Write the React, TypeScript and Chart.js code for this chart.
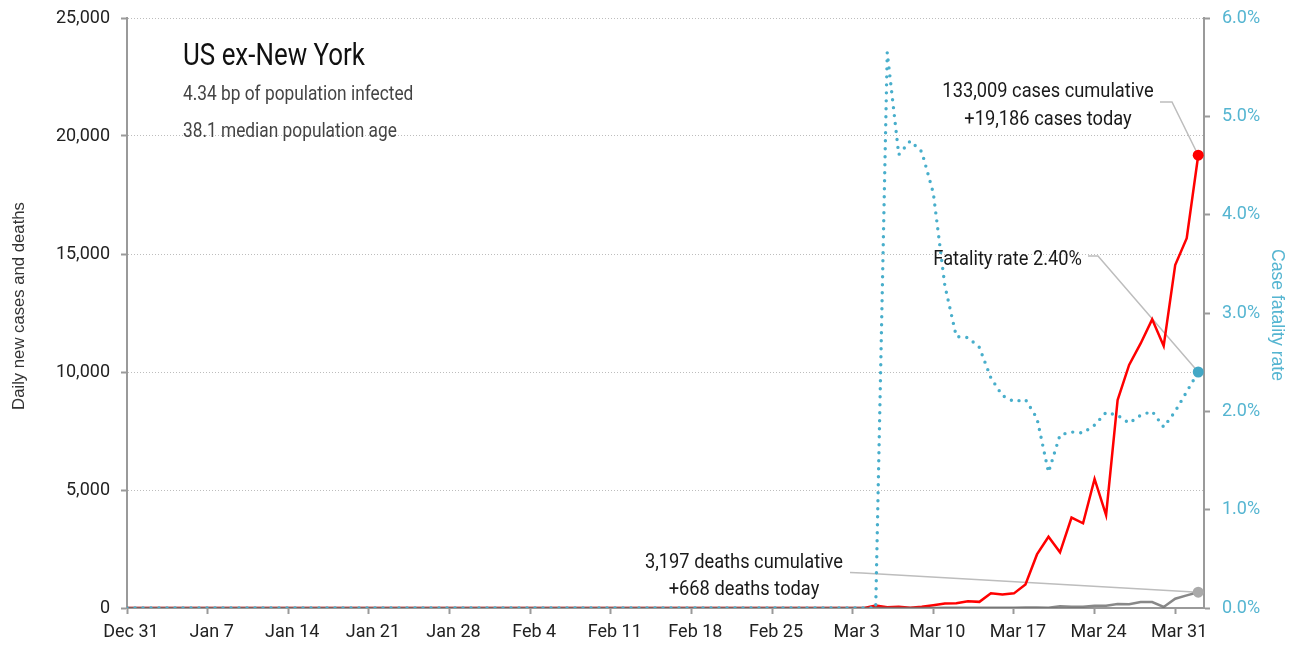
import React, { useEffect, useRef } from "react";
import { Chart, registerables } from "chart.js";

Chart.register(...registerables);

// ---- Data (daily, Dec 31 2019 = index 0 ... Apr 2 2020 = index 93) ----
const tickLabels = [
  "Dec 31", "Jan 7", "Jan 14", "Jan 21", "Jan 28", "Feb 4", "Feb 11",
  "Feb 18", "Feb 25", "Mar 3", "Mar 10", "Mar 17", "Mar 24", "Mar 31",
];

const casesDaily = [
  0, 0, 0, 0, 0, 0, 0, 0, 0, 0,
  0, 0, 0, 0, 0, 0, 0, 0, 0, 0,
  0, 0, 0, 0, 0, 0, 0, 0, 0, 0,
  0, 0, 0, 0, 0, 0, 0, 0, 0, 0,
  0, 0, 0, 0, 0, 0, 0, 0, 0, 0,
  0, 0, 0, 0, 0, 0, 0, 0, 0, 0,
  0, 0, 0, 0, 0,
  100, 30, 50, 15, 55, 120, 190, 200, 290, 260,
  620, 570, 620, 1000, 2270, 3020, 2360, 3830, 3590, 5470,
  3940, 8810, 10300, 11210, 12230, 11100, 14530, 15670, 19186,
];

const deathsDaily = [
  0, 0, 0, 0, 0, 0, 0, 0, 0, 0,
  0, 0, 0, 0, 0, 0, 0, 0, 0, 0,
  0, 0, 0, 0, 0, 0, 0, 0, 0, 0,
  0, 0, 0, 0, 0, 0, 0, 0, 0, 0,
  0, 0, 0, 0, 0, 0, 0, 0, 0, 0,
  0, 0, 0, 0, 0, 0, 0, 0, 0, 0,
  0, 0, 0, 0, 0,
  2, 1, 2, 3, 4, 4, 6, 6, 8, 10,
  12, 15, 15, 20, 20, 8, 70, 56, 56, 100,
  100, 170, 155, 254, 254, 45, 395, 536, 668,
];

const fatalityRate = [
  0, 0, 0, 0, 0, 0, 0, 0, 0, 0,
  0, 0, 0, 0, 0, 0, 0, 0, 0, 0,
  0, 0, 0, 0, 0, 0, 0, 0, 0, 0,
  0, 0, 0, 0, 0, 0, 0, 0, 0, 0,
  0, 0, 0, 0, 0, 0, 0, 0, 0, 0,
  0, 0, 0, 0, 0, 0, 0, 0, 0, 0,
  0, 0, 0, 0, 0, 0,
  5.65, 4.61, 4.75, 4.64, 4.22, 3.28, 2.76, 2.75, 2.65, 2.34,
  2.16, 2.10, 2.12, 1.93, 1.38, 1.76, 1.79, 1.78, 1.86, 1.99,
  1.96, 1.88, 1.96, 2.00, 1.84, 2.00, 2.20, 2.40,
];

const leftTicks = [0, 5000, 10000, 15000, 20000, 25000];
const rightTicks = [0, 1, 2, 3, 4, 5, 6];

const titleText = "US ex-New York";
const subtitleLines = ["4.34 bp of population infected", "38.1 median population age"];
const casesNote = ["133,009 cases cumulative", "+19,186 cases today"];
const deathsNote = ["3,197 deaths cumulative", "+668 deaths today"];
const fatalityNote = "Fatality rate 2.40%";

// ---- Styles ----
const TICKFONT = 'Roboto, "Liberation Sans", sans-serif';
const REGULAR = '"Liberation Sans", Arial, sans-serif';
const CYAN = "#48aecb";
const CYAN_TEXT = "#55b5d1";
const RED = "#ff0000";
const AXIS = "#9a9a9a";
const LEADER = "#bdbdbd";

const lastIdx = casesDaily.length - 1;
const dayIndex = casesDaily.map((_, i) => i);

function narrowText(
  ctx: CanvasRenderingContext2D,
  text: string,
  x: number,
  y: number,
  size: number,
  sx: number,
  align: CanvasTextAlign,
  color: string
) {
  ctx.save();
  ctx.font = `${size}px Roboto, "Liberation Sans", sans-serif`;
  ctx.fillStyle = color;
  ctx.textAlign = align;
  ctx.textBaseline = "alphabetic";
  ctx.translate(x, y);
  ctx.scale(sx, 1);
  ctx.fillText(text, 0, 0);
  ctx.restore();
}

const textPlugin = {
  id: "textPlugin",
  beforeDatasetsDraw(chart: any) {
    const { ctx, scales } = chart;
    const xEnd = scales.x.getPixelForValue(lastIdx);
    const casesY = scales.y.getPixelForValue(casesDaily[lastIdx]);
    const deathsY = scales.y.getPixelForValue(deathsDaily[lastIdx]);
    const fatY = scales.y1.getPixelForValue(fatalityRate[lastIdx]);
    ctx.save();
    ctx.strokeStyle = LEADER;
    ctx.lineWidth = 1.5;
    ctx.setLineDash([]);
    ctx.beginPath();
    ctx.moveTo(1160, 102);
    ctx.lineTo(1172, 102);
    ctx.lineTo(xEnd, casesY);
    ctx.stroke();
    ctx.beginPath();
    ctx.moveTo(1088, 256);
    ctx.lineTo(1098, 256);
    ctx.lineTo(xEnd, fatY);
    ctx.stroke();
    ctx.beginPath();
    ctx.moveTo(850, 572.5);
    ctx.lineTo(862, 573);
    ctx.lineTo(xEnd, deathsY);
    ctx.stroke();
    ctx.restore();
  },
  afterDraw(chart: any) {
    const { ctx } = chart;
    // Title block
    narrowText(ctx, titleText, 183, 65, 32, 0.81, "left", "#111");
    narrowText(ctx, subtitleLines[0], 183, 100, 20, 0.865, "left", "#444");
    narrowText(ctx, subtitleLines[1], 183, 137, 20, 0.865, "left", "#444");

    // Notes
    const NS = 21;
    const NX = 0.87;
    narrowText(ctx, casesNote[0], 1048, 97, NS, NX, "center", "#1a1a1a");
    narrowText(ctx, casesNote[1], 1048, 125, NS, NX, "center", "#1a1a1a");
    narrowText(ctx, deathsNote[0], 744, 568, NS, NX, "center", "#1a1a1a");
    narrowText(ctx, deathsNote[1], 744, 595, NS, NX, "center", "#1a1a1a");
    narrowText(ctx, fatalityNote, 1082, 265, NS, NX, "right", "#1a1a1a");

    // Axis titles
    ctx.save();
    ctx.textAlign = "center";
    ctx.textBaseline = "middle";
    ctx.fillStyle = "#333";
    ctx.font = `16.7px ${REGULAR}`;
    ctx.save();
    ctx.translate(19, 306);
    ctx.rotate(-Math.PI / 2);
    ctx.fillText("Daily new cases and deaths", 0, 0);
    ctx.restore();
    ctx.fillStyle = CYAN_TEXT;
    ctx.font = `17.6px ${REGULAR}`;
    ctx.save();
    ctx.translate(1277, 315);
    ctx.rotate(Math.PI / 2);
    ctx.fillText("Case fatality rate", 0, 0);
    ctx.restore();
    ctx.restore();
  },
};

export default function App() {
  const canvasRef = useRef<HTMLCanvasElement | null>(null);

  useEffect(() => {
    document.body.style.margin = "0";
    const canvas = canvasRef.current;
    if (!canvas) return;
    const endRadius = (r: number) => (ctx: any) => (ctx.dataIndex === lastIdx ? r : 0);
    const noPad = (s: any) => {
      s.paddingTop = 0;
      s.paddingBottom = 0;
      s.paddingLeft = 0;
      s.paddingRight = 0;
    };
    const chart = new Chart(canvas, {
      type: "line",
      data: {
        labels: dayIndex,
        datasets: [
          {
            label: "Case fatality rate",
            data: fatalityRate,
            yAxisID: "y1",
            borderColor: CYAN,
            borderWidth: 3.4,
            borderDash: [0, 8],
            borderCapStyle: "round",
            tension: 0,
            pointRadius: endRadius(5.5),
            pointHoverRadius: 0,
            pointBackgroundColor: "#43a8c6",
            pointBorderWidth: 0,
          },
          {
            label: "Daily new deaths",
            data: deathsDaily,
            yAxisID: "y",
            borderColor: "rgba(110,110,110,0.82)",
            borderWidth: 2.5,
            tension: 0,
            pointRadius: endRadius(5.5),
            pointHoverRadius: 0,
            pointBackgroundColor: "#aaaaaa",
            pointBorderWidth: 0,
          },
          {
            label: "Daily new cases",
            data: casesDaily,
            yAxisID: "y",
            borderColor: RED,
            borderWidth: 2.5,
            tension: 0,
            pointRadius: endRadius(5.5),
            pointHoverRadius: 0,
            pointBackgroundColor: RED,
            pointBorderWidth: 0,
          },
        ],
      },
      options: {
        animation: false,
        responsive: false,
        events: [],
        layout: { padding: { top: 18, left: 0, right: 0, bottom: 0 } },
        plugins: { legend: { display: false }, tooltip: { enabled: false } },
        scales: {
          x: {
            type: "linear",
            min: 0,
            max: 93.5,
            afterFit: (s: any) => {
              s.height = 41;
              noPad(s);
            },
            grid: {
              drawOnChartArea: false,
              drawTicks: true,
              tickLength: 6,
              tickColor: AXIS,
              tickWidth: 2,
            },
            border: { display: true, color: AXIS, width: 2 },
            ticks: {
              stepSize: 7,
              includeBounds: false,
              autoSkip: false,
              maxRotation: 0,
              padding: 8,
              labelOffset: 4,
              color: "#222",
              font: { family: TICKFONT, size: 18 },
              callback: (v: any) => tickLabels[Math.round(Number(v) / 7)] ?? "",
            },
          },
          y: {
            position: "left",
            min: leftTicks[0],
            max: leftTicks[leftTicks.length - 1],
            afterFit: (s: any) => {
              s.width = 127;
              noPad(s);
            },
            afterBuildTicks: (s: any) => {
              s.ticks = leftTicks.map((v) => ({ value: v }));
            },
            grid: {
              color: "#bdbdbd",
              lineWidth: 1,
              drawTicks: true,
              tickLength: 6,
              tickColor: AXIS,
              tickWidth: 2,
            },
            border: { display: true, color: AXIS, width: 2, dash: [1, 2] },
            ticks: {
              padding: 11,
              color: "#222",
              font: { family: TICKFONT, size: 18 },
              callback: (v: any) => Number(v).toLocaleString("en-US"),
            },
          },
          y1: {
            position: "right",
            min: rightTicks[0],
            max: rightTicks[rightTicks.length - 1],
            afterFit: (s: any) => {
              s.width = 93;
              noPad(s);
            },
            afterBuildTicks: (s: any) => {
              s.ticks = rightTicks.map((v) => ({ value: v }));
            },
            grid: {
              drawOnChartArea: false,
              drawTicks: true,
              tickLength: 6,
              tickColor: AXIS,
              tickWidth: 2,
            },
            border: { display: true, color: AXIS, width: 2 },
            ticks: {
              padding: 12,
              color: CYAN_TEXT,
              font: { family: TICKFONT, size: 18 },
              callback: (v: any) => Number(v).toFixed(1) + "%",
            },
          },
        },
      },
      plugins: [textPlugin],
    } as any);
    return () => chart.destroy();
  }, []);

  return (
    <div style={{ position: "absolute", left: 0, top: 0, width: 1297, height: 649 }}>
      <canvas ref={canvasRef} width={1297} height={649} style={{ display: "block" }} />
    </div>
  );
}
